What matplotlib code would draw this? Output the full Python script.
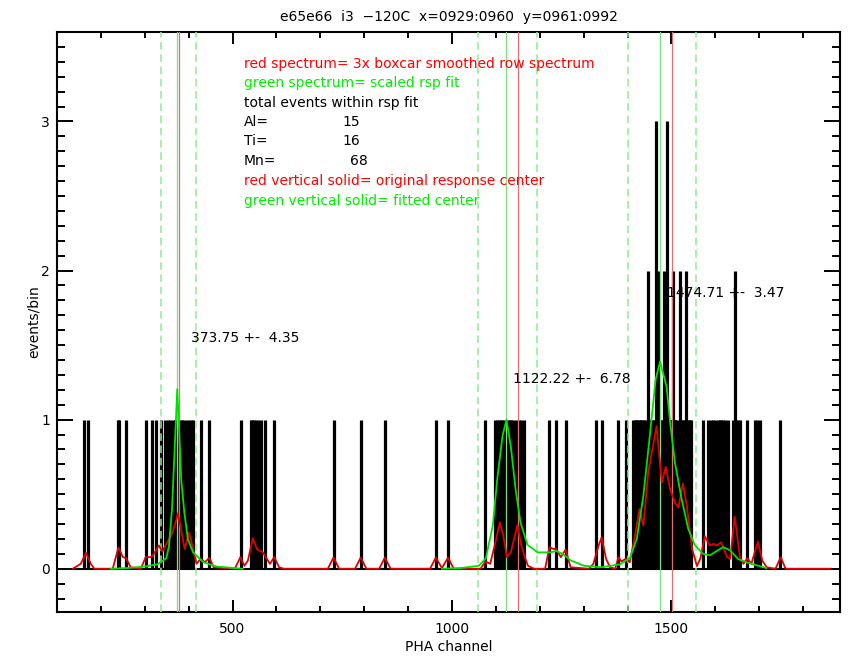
import matplotlib
matplotlib.use('Agg')
import matplotlib.pyplot as plt
from matplotlib.ticker import MultipleLocator

plt.rcParams['font.family'] = ['DejaVu Sans']

# event channels (black spikes) and counts per channel
chan_1 = [161, 170, 238, 242, 257, 303, 317, 326, 337, 347, 354, 358, 364, 368,
          372, 375, 380, 384, 387, 394, 401, 405, 409, 427, 447, 519, 541, 545,
          549, 553, 557, 565, 574, 595, 730, 792, 847, 963, 991, 1076, 1099,
          1103, 1107, 1111, 1115, 1119, 1123, 1127, 1131, 1135, 1140, 1145,
          1152, 1157, 1164, 1221, 1237, 1259, 1327, 1341, 1379, 1396, 1413,
          1416, 1419, 1422, 1425, 1428, 1431, 1434, 1437, 1440, 1451, 1454,
          1457, 1460, 1468, 1475, 1478, 1480, 1486, 1493, 1496, 1498, 1501,
          1507, 1509, 1511, 1517, 1524, 1527, 1530, 1536, 1539, 1542, 1545,
          1572, 1584, 1591, 1595, 1599, 1606, 1610, 1614, 1618, 1622, 1629,
          1641, 1648, 1652, 1656, 1671, 1690, 1695, 1701, 1747]
chan_2 = [1447, 1472, 1483, 1504, 1520, 1533, 1644]
chan_3 = [1465, 1490]

# red: 3x boxcar smoothed row spectrum
red_x = [136, 154, 166, 177, 185, 227, 240, 250, 257, 268, 291, 302, 314, 321,
         332, 340, 349, 360, 368, 376, 381, 391, 401, 410, 418, 427, 437, 447,
         457, 505, 518, 527, 535, 546, 556, 569, 585, 595, 606, 617, 717, 730,
         743, 779, 792, 805, 834, 847, 860, 950, 963, 977, 991, 1004, 1065,
         1076, 1087, 1099, 1109, 1117, 1125, 1134, 1149, 1158, 1166, 1173,
         1187, 1212, 1222, 1231, 1237, 1248, 1259, 1270, 1312, 1322, 1334,
         1341, 1351, 1360, 1372, 1379, 1386, 1396, 1405, 1417, 1427, 1436,
         1447, 1466, 1478, 1487, 1497, 1508, 1516, 1526, 1535, 1547, 1558,
         1566, 1576, 1587, 1596, 1604, 1613, 1627, 1634, 1644, 1656, 1664,
         1673, 1682, 1697, 1707, 1717, 1737, 1749, 1760, 1861]
red_y = [0, 0.033, 0.107, 0.033, 0, 0, 0.144, 0.078, 0.073, 0.01, 0, 0.078,
         0.078, 0.1, 0.156, 0.116, 0.167, 0.222, 0.289, 0.373, 0.289, 0.133,
         0.244, 0.133, 0.033, 0.067, 0.044, 0.073, 0.01, 0, 0.078, 0.02, 0.055,
         0.204, 0.129, 0.111, 0.033, 0.078, 0.01, 0, 0, 0.075, 0, 0, 0.075, 0,
         0, 0.075, 0, 0, 0.075, 0.005, 0.075, 0, 0, 0.049, 0.033, 0.178, 0.311,
         0.222, 0.078, 0.111, 0.293, 0.156, 0.078, 0.02, 0, 0, 0.144, 0.133,
         0.133, 0.078, 0.129, 0.01, 0, 0.033, 0.156, 0.211, 0.067, 0.01, 0,
         0.078, 0.049, 0.067, 0.044, 0.222, 0.4, 0.289, 0.644, 0.956, 0.578,
         0.684, 0.533, 0.444, 0.411, 0.573, 0.422, 0.133, 0.018, 0.07, 0.218,
         0.156, 0.167, 0.156, 0.178, 0.078, 0.067, 0.351, 0.078, 0.033, 0.071,
         0.033, 0.182, 0.055, 0.01, 0, 0.078, 0, 0]

# green: scaled rsp fit (Al piece, then Ti + Mn piece)
al_x = [223, 260, 300, 329, 349, 355, 362, 368, 374, 378, 383, 390, 398, 410,
        433, 463, 523]
al_y = [0, 0.005, 0.015, 0.03, 0.07, 0.15, 0.4, 0.8, 1.205, 0.95, 0.6, 0.38,
        0.2, 0.11, 0.045, 0.015, 0]
timn_x = [977, 1020, 1040, 1061, 1077, 1093, 1103, 1115, 1124, 1134, 1145,
          1156, 1172, 1195, 1225, 1237, 1252, 1271, 1301, 1340, 1383, 1405,
          1421, 1436, 1452, 1464, 1474, 1489, 1497, 1508, 1523, 1538, 1553,
          1572, 1588, 1598, 1618, 1633, 1652, 1675, 1698, 1716]
timn_y = [0, 0.005, 0.012, 0.02, 0.07, 0.29, 0.6, 0.89, 1.0, 0.82, 0.53, 0.31,
          0.16, 0.11, 0.11, 0.12, 0.1, 0.055, 0.02, 0.01, 0.03, 0.07, 0.2, 0.49,
          0.93, 1.27, 1.39, 1.22, 0.98, 0.71, 0.47, 0.27, 0.16, 0.1, 0.09, 0.11,
          0.145, 0.125, 0.065, 0.04, 0.02, 0.005]

orig_centers = [379, 1151, 1502]
fit_centers = [373.75, 1122.22, 1474.71]
fit_errors = [4.35, 6.78, 3.47]
fit_bounds = [337, 417, 1060, 1193, 1401, 1557]
label_x = [405, 1139, 1489]
label_y = [1.55, 1.27, 1.85]

totals = [('Al=', 15, 751), ('Ti=', 16, 751), ('Mn=', 68, 767)]

fig = plt.figure(figsize=(8.52, 6.56), dpi=100)
ax = fig.add_axes([57 / 852, 44 / 656, 783 / 852, 580 / 656])

ax.vlines(chan_1, 0, 1, color='black', lw=2.3, zorder=2)
ax.vlines(chan_2, 0, 2, color='black', lw=2.3, zorder=2)
ax.vlines(chan_3, 0, 3, color='black', lw=2.3, zorder=2)
ax.plot([red_x[0], red_x[-1]], [0, 0], color='black', lw=1.5, zorder=2)

for c in fit_bounds:
    ax.axvline(c, color='#90ee90', lw=1.1, ls=(0, (5, 3)), zorder=3)
for c in orig_centers:
    ax.axvline(c, color='#e07070', lw=0.9, zorder=3)
for c in fit_centers:
    ax.axvline(c, color='#80e080', lw=0.9, zorder=3)

ax.plot(red_x, red_y, color='#e00000', lw=1.3, zorder=4)
ax.plot(al_x, al_y, color='#00e000', lw=1.3, zorder=5)
ax.plot(timn_x, timn_y, color='#00e000', lw=1.3, zorder=5)

fs = 10
for c, e, x, y in zip(fit_centers, fit_errors, label_x, label_y):
    ax.text(x, y, '%.2f +-  %.2f' % (c, e), fontsize=fs, va='center', zorder=6)

lines = [('red spectrum= 3x boxcar smoothed row spectrum', 'red'),
         ('green spectrum= scaled rsp fit', '#00ee00'),
         ('total events within rsp fit', 'black')]
ty = [3.385, 3.255, 3.127, 2.995, 2.867, 2.733, 2.6, 2.467]
for (s, col), y in zip(lines, ty[:3]):
    ax.text(526, y, s, color=col, fontsize=fs, va='center')
for (name, n, nx), y in zip(totals, ty[3:6]):
    ax.text(526, y, name, fontsize=fs, va='center')
    ax.text(nx, y, str(n), fontsize=fs, va='center')
ax.text(526, ty[6], 'red vertical solid= original response center', color='red',
        fontsize=fs, va='center')
ax.text(526, ty[7], 'green vertical solid= fitted center', color='#00ee00',
        fontsize=fs, va='center')

ax.set_xlim(100, 1884)
ax.set_ylim(-0.29, 3.6)
ax.xaxis.set_major_locator(MultipleLocator(500))
ax.xaxis.set_minor_locator(MultipleLocator(100))
ax.yaxis.set_major_locator(MultipleLocator(1))
ax.yaxis.set_minor_locator(MultipleLocator(0.1))
ax.tick_params(axis='both', which='both', direction='in', top=True, right=True,
               width=1.4, labelsize=fs)
ax.tick_params(axis='x', which='major', length=8.4, pad=7)
ax.tick_params(axis='x', which='minor', length=4.2)
ax.tick_params(axis='y', which='major', length=11.3, pad=5)
ax.tick_params(axis='y', which='minor', length=5.6)
for sp in ax.spines.values():
    sp.set_linewidth(1.5)

ax.set_xlabel('PHA channel', fontsize=fs, labelpad=3)
ax.set_ylabel('events/bin', fontsize=fs, labelpad=0)
ax.set_title('e65e66  i3  \u2212120C  x=0929:0960  y=0961:0992', fontsize=10, pad=8)

fig.savefig('out.png', dpi=100)
